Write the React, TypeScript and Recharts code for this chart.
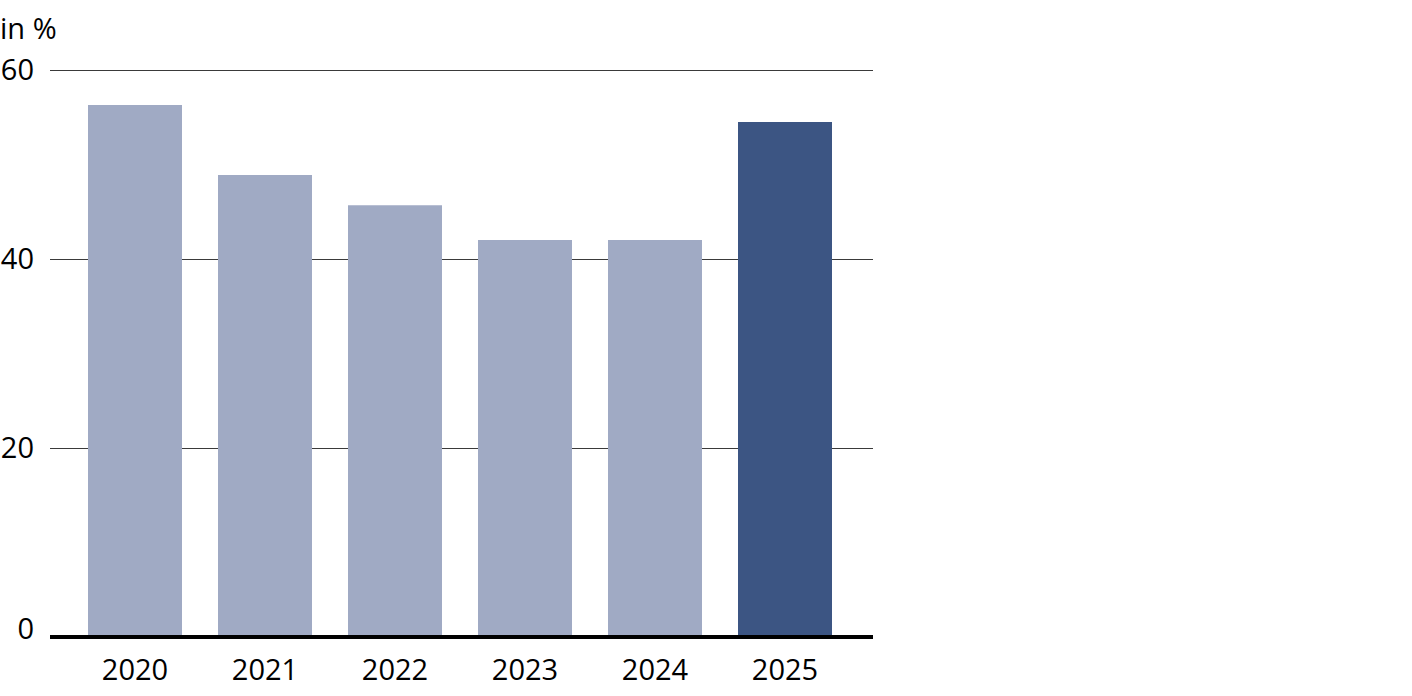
import { Bar, BarChart, CartesianGrid, Cell, XAxis, YAxis } from "recharts";

const years = ["2020", "2021", "2022", "2023", "2024", "2025"];
const shares = [56.3, 48.9, 45.7, 42.0, 42.0, 54.5];
const yTicks = [0, 20, 40, 60];

const light = "#a0aac4";
const dark = "#3c5583";
const font = "'Open Sans', sans-serif";

const data = years.map((year, i) => ({ year, share: shares[i] }));

function YTick(props: any) {
  const { x, y, payload } = props;
  const shift = payload.value === 0 ? -8 : 0;
  return (
    <text x={x} y={y + shift} dy="0.355em" textAnchor="end" fontSize={29} fill="#000" fontFamily={font}>
      {payload.value}
    </text>
  );
}

export default function App() {
  return (
    <div style={{ position: "absolute", left: 0, top: 0, width: 1412, height: 696, background: "#fff" }}>
      <div style={{ position: "absolute", left: 0, top: 10, fontFamily: font, fontSize: 29, lineHeight: "36px", color: "#000" }}>
        in %
      </div>
      <BarChart width={1412} height={696} data={data} margin={{ top: 70, right: 539, bottom: 0, left: 0 }}>
        <CartesianGrid vertical={false} stroke="#3a3a3a" strokeWidth={1} shapeRendering="crispEdges" />
        <XAxis
          dataKey="year"
          height={59}
          padding={{ left: 20, right: 23 }}
          axisLine={{ stroke: "#000", strokeWidth: 4 }}
          tickLine={false}
          tickSize={0}
          tickMargin={22}
          tick={{ fontSize: 29, fill: "#000", fontFamily: font }}
        />
        <YAxis
          domain={[0, 60]}
          ticks={yTicks}
          width={50}
          axisLine={false}
          tickLine={false}
          tickSize={0}
          tickMargin={16}
          tick={<YTick />}
        />
        <Bar dataKey="share" barSize={94} isAnimationActive={false}>
          {data.map((d, i) => (
            <Cell key={d.year} fill={i === data.length - 1 ? dark : light} />
          ))}
        </Bar>
      </BarChart>
    </div>
  );
}
